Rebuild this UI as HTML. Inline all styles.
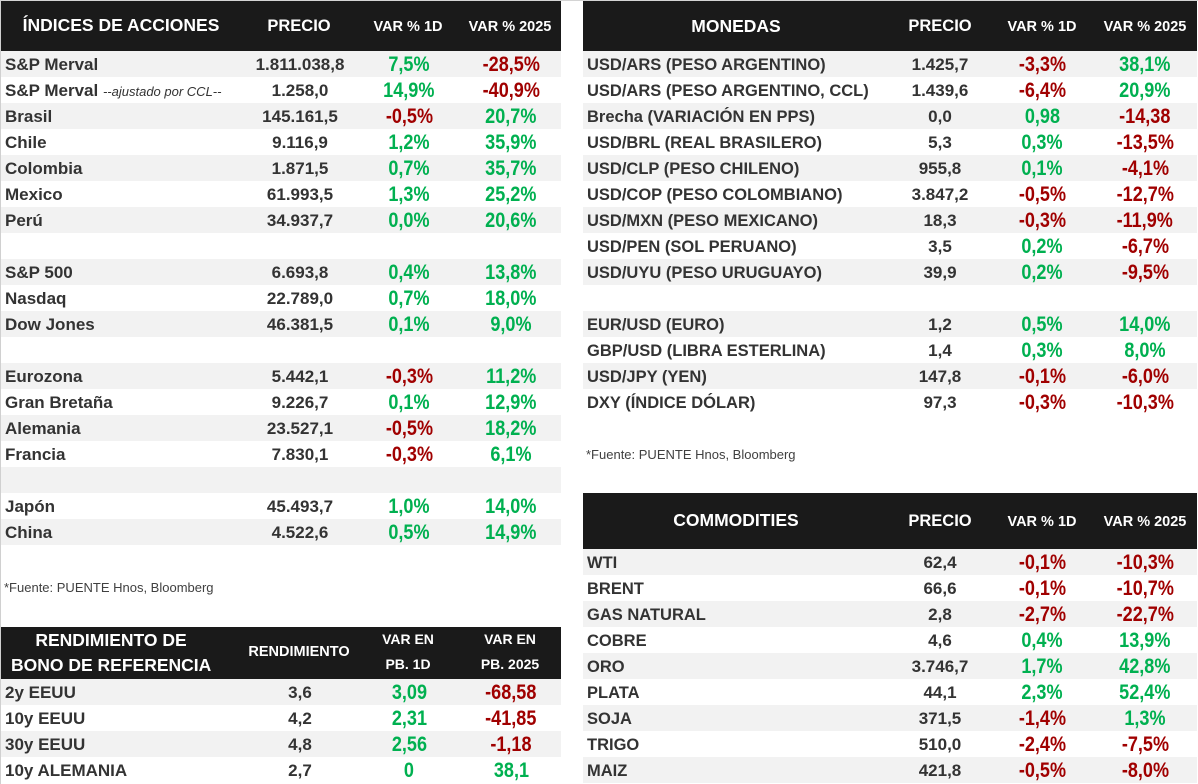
<!DOCTYPE html>
<html><head><meta charset="utf-8">
<style>
*{margin:0;padding:0;box-sizing:border-box}
body{width:1198px;height:784px;background:#fff;position:relative;overflow:hidden;font-family:"Liberation Sans",Arial,sans-serif}
.topline{position:absolute;left:0;top:0;width:1198px;height:1px;background:#d4d4d4}
.leftline{position:absolute;left:0;top:0;width:1px;height:784px;background:#d0d0d0}
.hd{position:absolute;background:#1a1a1a;color:#fff;font-weight:bold}
.ht{position:absolute;text-align:center;white-space:nowrap;color:#fff;font-weight:bold}
.r{position:absolute;height:26px;line-height:26px;white-space:nowrap}
.g{background:#f2f2f2}
.l{position:absolute;left:4px;top:1px;font-weight:bold;font-size:16.5px;color:#333}
.L .l{font-size:17px}
.p{position:absolute;top:1px;text-align:center;font-weight:bold;font-size:17px;color:#333}
.v{position:absolute;top:1px;text-align:center;font-weight:bold;font-size:21px}
.v span{display:inline-block;transform:scaleX(.86)}
.gr{color:#00b050}.rd{color:#a00000}
.it{font-style:italic;font-weight:normal;font-size:13px;color:#333}
.fn{position:absolute;font-size:13px;color:#404040}
.L .p{left:239px;width:120px}
.L .v1{left:358px;width:100px}
.L .v2{left:460px;width:100px}
.R .p{left:297px;width:120px}
.R .v1{left:409px;width:100px}
.R .v2{left:512px;width:100px}
.L{left:1px;width:560px}
.R{left:583px;width:614px}
</style></head><body>
<div class="topline"></div>
<div class="leftline"></div>

<!-- Left header -->
<div class="hd" style="left:1px;top:1px;width:560px;height:50px"></div>
<div class="ht" style="left:21px;width:200px;top:15px;font-size:17.5px">ÍNDICES DE ACCIONES</div>
<div class="ht" style="left:249px;width:100px;top:17px;font-size:16.5px">PRECIO</div>
<div class="ht" style="left:358px;width:100px;top:19px;font-size:14.5px">VAR % 1D</div>
<div class="ht" style="left:460px;width:100px;top:19px;font-size:14.5px">VAR % 2025</div>

<div class="r g L" style="top:51px"><span class="l">S&amp;P Merval</span><span class="p">1.811.038,8</span><span class="v v1 gr"><span>7,5%</span></span><span class="v v2 rd"><span>-28,5%</span></span></div>
<div class="r L" style="top:77px"><span class="l">S&amp;P Merval <span class="it">--ajustado por CCL--</span></span><span class="p">1.258,0</span><span class="v v1 gr"><span>14,9%</span></span><span class="v v2 rd"><span>-40,9%</span></span></div>
<div class="r g L" style="top:103px"><span class="l">Brasil</span><span class="p">145.161,5</span><span class="v v1 rd"><span>-0,5%</span></span><span class="v v2 gr"><span>20,7%</span></span></div>
<div class="r L" style="top:129px"><span class="l">Chile</span><span class="p">9.116,9</span><span class="v v1 gr"><span>1,2%</span></span><span class="v v2 gr"><span>35,9%</span></span></div>
<div class="r g L" style="top:155px"><span class="l">Colombia</span><span class="p">1.871,5</span><span class="v v1 gr"><span>0,7%</span></span><span class="v v2 gr"><span>35,7%</span></span></div>
<div class="r L" style="top:181px"><span class="l">Mexico</span><span class="p">61.993,5</span><span class="v v1 gr"><span>1,3%</span></span><span class="v v2 gr"><span>25,2%</span></span></div>
<div class="r g L" style="top:207px"><span class="l">Perú</span><span class="p">34.937,7</span><span class="v v1 gr"><span>0,0%</span></span><span class="v v2 gr"><span>20,6%</span></span></div>
<div class="r L" style="top:233px"></div>
<div class="r g L" style="top:259px"><span class="l">S&amp;P 500</span><span class="p">6.693,8</span><span class="v v1 gr"><span>0,4%</span></span><span class="v v2 gr"><span>13,8%</span></span></div>
<div class="r L" style="top:285px"><span class="l">Nasdaq</span><span class="p">22.789,0</span><span class="v v1 gr"><span>0,7%</span></span><span class="v v2 gr"><span>18,0%</span></span></div>
<div class="r g L" style="top:311px"><span class="l">Dow Jones</span><span class="p">46.381,5</span><span class="v v1 gr"><span>0,1%</span></span><span class="v v2 gr"><span>9,0%</span></span></div>
<div class="r L" style="top:337px"></div>
<div class="r g L" style="top:363px"><span class="l">Eurozona</span><span class="p">5.442,1</span><span class="v v1 rd"><span>-0,3%</span></span><span class="v v2 gr"><span>11,2%</span></span></div>
<div class="r L" style="top:389px"><span class="l">Gran Bretaña</span><span class="p">9.226,7</span><span class="v v1 gr"><span>0,1%</span></span><span class="v v2 gr"><span>12,9%</span></span></div>
<div class="r g L" style="top:415px"><span class="l">Alemania</span><span class="p">23.527,1</span><span class="v v1 rd"><span>-0,5%</span></span><span class="v v2 gr"><span>18,2%</span></span></div>
<div class="r L" style="top:441px"><span class="l">Francia</span><span class="p">7.830,1</span><span class="v v1 rd"><span>-0,3%</span></span><span class="v v2 gr"><span>6,1%</span></span></div>
<div class="r g L" style="top:467px"></div>
<div class="r L" style="top:493px"><span class="l">Japón</span><span class="p">45.493,7</span><span class="v v1 gr"><span>1,0%</span></span><span class="v v2 gr"><span>14,0%</span></span></div>
<div class="r g L" style="top:519px"><span class="l">China</span><span class="p">4.522,6</span><span class="v v1 gr"><span>0,5%</span></span><span class="v v2 gr"><span>14,9%</span></span></div>

<div class="fn" style="left:4px;top:580px">*Fuente: PUENTE Hnos, Bloomberg</div>

<!-- Bond table -->
<div class="hd" style="left:1px;top:627px;width:560px;height:52px"></div>
<div class="ht" style="left:11px;width:200px;top:628px;font-size:17.5px;line-height:25px">RENDIMIENTO DE<br>BONO DE REFERENCIA</div>
<div class="ht" style="left:239px;width:120px;top:644px;font-size:14.5px">RENDIMIENTO</div>
<div class="ht" style="left:358px;width:100px;top:627px;font-size:14px;line-height:25px">VAR EN<br>PB. 1D</div>
<div class="ht" style="left:460px;width:100px;top:627px;font-size:14px;line-height:25px">VAR EN<br>PB. 2025</div>

<div class="r g L" style="top:679px"><span class="l">2y EEUU</span><span class="p">3,6</span><span class="v v1 gr"><span>3,09</span></span><span class="v v2 rd"><span>-68,58</span></span></div>
<div class="r L" style="top:705px"><span class="l">10y EEUU</span><span class="p">4,2</span><span class="v v1 gr"><span>2,31</span></span><span class="v v2 rd"><span>-41,85</span></span></div>
<div class="r g L" style="top:731px"><span class="l">30y EEUU</span><span class="p">4,8</span><span class="v v1 gr"><span>2,56</span></span><span class="v v2 rd"><span>-1,18</span></span></div>
<div class="r L" style="top:757px"><span class="l">10y ALEMANIA</span><span class="p">2,7</span><span class="v v1 gr"><span>0</span></span><span class="v v2 gr"><span>38,1</span></span></div>

<!-- Right header: Monedas -->
<div class="hd" style="left:583px;top:1px;width:614px;height:50px"></div>
<div class="ht" style="left:666px;width:140px;top:16px;font-size:17.5px">MONEDAS</div>
<div class="ht" style="left:890px;width:100px;top:17px;font-size:16.5px">PRECIO</div>
<div class="ht" style="left:992px;width:100px;top:19px;font-size:14.5px">VAR % 1D</div>
<div class="ht" style="left:1095px;width:100px;top:19px;font-size:14.5px">VAR % 2025</div>

<div class="r g R" style="top:51px"><span class="l">USD/ARS (PESO ARGENTINO)</span><span class="p">1.425,7</span><span class="v v1 rd"><span>-3,3%</span></span><span class="v v2 gr"><span>38,1%</span></span></div>
<div class="r R" style="top:77px"><span class="l">USD/ARS (PESO ARGENTINO, CCL)</span><span class="p">1.439,6</span><span class="v v1 rd"><span>-6,4%</span></span><span class="v v2 gr"><span>20,9%</span></span></div>
<div class="r g R" style="top:103px"><span class="l">Brecha (VARIACIÓN EN PPS)</span><span class="p">0,0</span><span class="v v1 gr"><span>0,98</span></span><span class="v v2 rd"><span>-14,38</span></span></div>
<div class="r R" style="top:129px"><span class="l">USD/BRL (REAL BRASILERO)</span><span class="p">5,3</span><span class="v v1 gr"><span>0,3%</span></span><span class="v v2 rd"><span>-13,5%</span></span></div>
<div class="r g R" style="top:155px"><span class="l">USD/CLP (PESO CHILENO)</span><span class="p">955,8</span><span class="v v1 gr"><span>0,1%</span></span><span class="v v2 rd"><span>-4,1%</span></span></div>
<div class="r R" style="top:181px"><span class="l">USD/COP (PESO COLOMBIANO)</span><span class="p">3.847,2</span><span class="v v1 rd"><span>-0,5%</span></span><span class="v v2 rd"><span>-12,7%</span></span></div>
<div class="r g R" style="top:207px"><span class="l">USD/MXN (PESO MEXICANO)</span><span class="p">18,3</span><span class="v v1 rd"><span>-0,3%</span></span><span class="v v2 rd"><span>-11,9%</span></span></div>
<div class="r R" style="top:233px"><span class="l">USD/PEN (SOL PERUANO)</span><span class="p">3,5</span><span class="v v1 gr"><span>0,2%</span></span><span class="v v2 rd"><span>-6,7%</span></span></div>
<div class="r g R" style="top:259px"><span class="l">USD/UYU (PESO URUGUAYO)</span><span class="p">39,9</span><span class="v v1 gr"><span>0,2%</span></span><span class="v v2 rd"><span>-9,5%</span></span></div>
<div class="r R" style="top:285px"></div>
<div class="r g R" style="top:311px"><span class="l">EUR/USD (EURO)</span><span class="p">1,2</span><span class="v v1 gr"><span>0,5%</span></span><span class="v v2 gr"><span>14,0%</span></span></div>
<div class="r R" style="top:337px"><span class="l">GBP/USD (LIBRA ESTERLINA)</span><span class="p">1,4</span><span class="v v1 gr"><span>0,3%</span></span><span class="v v2 gr"><span>8,0%</span></span></div>
<div class="r g R" style="top:363px"><span class="l">USD/JPY (YEN)</span><span class="p">147,8</span><span class="v v1 rd"><span>-0,1%</span></span><span class="v v2 rd"><span>-6,0%</span></span></div>
<div class="r R" style="top:389px"><span class="l">DXY (ÍNDICE DÓLAR)</span><span class="p">97,3</span><span class="v v1 rd"><span>-0,3%</span></span><span class="v v2 rd"><span>-10,3%</span></span></div>

<div class="fn" style="left:586px;top:447px">*Fuente: PUENTE Hnos, Bloomberg</div>

<!-- Commodities -->
<div class="hd" style="left:583px;top:493px;width:614px;height:56px"></div>
<div class="ht" style="left:656px;width:160px;top:510px;font-size:17.5px">COMMODITIES</div>
<div class="ht" style="left:890px;width:100px;top:512px;font-size:16.5px">PRECIO</div>
<div class="ht" style="left:992px;width:100px;top:514px;font-size:14.5px">VAR % 1D</div>
<div class="ht" style="left:1095px;width:100px;top:514px;font-size:14.5px">VAR % 2025</div>

<div class="r g R" style="top:549px"><span class="l">WTI</span><span class="p">62,4</span><span class="v v1 rd"><span>-0,1%</span></span><span class="v v2 rd"><span>-10,3%</span></span></div>
<div class="r R" style="top:575px"><span class="l">BRENT</span><span class="p">66,6</span><span class="v v1 rd"><span>-0,1%</span></span><span class="v v2 rd"><span>-10,7%</span></span></div>
<div class="r g R" style="top:601px"><span class="l">GAS NATURAL</span><span class="p">2,8</span><span class="v v1 rd"><span>-2,7%</span></span><span class="v v2 rd"><span>-22,7%</span></span></div>
<div class="r R" style="top:627px"><span class="l">COBRE</span><span class="p">4,6</span><span class="v v1 gr"><span>0,4%</span></span><span class="v v2 gr"><span>13,9%</span></span></div>
<div class="r g R" style="top:653px"><span class="l">ORO</span><span class="p">3.746,7</span><span class="v v1 gr"><span>1,7%</span></span><span class="v v2 gr"><span>42,8%</span></span></div>
<div class="r R" style="top:679px"><span class="l">PLATA</span><span class="p">44,1</span><span class="v v1 gr"><span>2,3%</span></span><span class="v v2 gr"><span>52,4%</span></span></div>
<div class="r g R" style="top:705px"><span class="l">SOJA</span><span class="p">371,5</span><span class="v v1 rd"><span>-1,4%</span></span><span class="v v2 gr"><span>1,3%</span></span></div>
<div class="r R" style="top:731px"><span class="l">TRIGO</span><span class="p">510,0</span><span class="v v1 rd"><span>-2,4%</span></span><span class="v v2 rd"><span>-7,5%</span></span></div>
<div class="r g R" style="top:757px"><span class="l">MAIZ</span><span class="p">421,8</span><span class="v v1 rd"><span>-0,5%</span></span><span class="v v2 rd"><span>-8,0%</span></span></div>

</body></html>
